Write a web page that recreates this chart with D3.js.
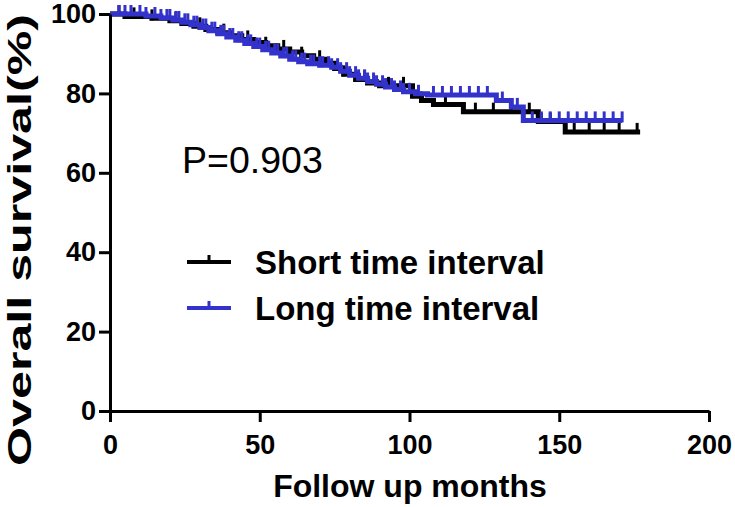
<!DOCTYPE html>
<html><head><meta charset="utf-8">
<script src="https://cdn.jsdelivr.net/npm/d3@7"></script>
<style>html,body{margin:0;padding:0;background:#fff;}svg{display:block;}</style>
</head><body>
<svg id="c" width="735" height="507"></svg>
<script>
// ---- data ----
const xTicks = [0, 50, 100, 150, 200];
const yTicks = [0, 20, 40, 60, 80, 100];
const seriesNames = ["Short time interval", "Long time interval"];
const seriesColors = ["#000000", "#3333cc"];

// Kaplan-Meier steps [month, survival%]
const shortSteps = [[0,100],[5,99.4],[14,98.9],[20,98.3],[24,97.6],[28,96.9],[32,96.1],[36,95.3],[40,94.5],[44,93.6],[48,92.8],[52,92.0],[56,91.2],[60,90.4],[64,89.5],[68,88.6],[72,87.6],[75,86.3],[78,84.8],[82,83.5],[86,82.6],[90,81.9],[101,79.3],[104,78.2],[108,77.2],[118,75.4],[143,72.9],[152,70.3],[177,70.3]];
const longSteps = [[0,100],[12,99.5],[17,99.0],[21,98.5],[24,97.9],[27,97.3],[30,96.6],[33,95.8],[36,95.0],[39,94.2],[42,93.4],[45,92.6],[48,91.8],[51,91.0],[54,90.2],[57,89.4],[60,88.6],[63,88.0],[66,87.5],[70,87.1],[74,86.6],[77,85.6],[80,84.6],[83,83.8],[86,83.0],[89,82.3],[92,81.6],[95,81.0],[98,80.4],[102,79.9],[106,79.6],[129,78.2],[134,76.6],[138,73.2],[171,73.2]];

// censored observations (months)
const shortCensor = [3,8,14,22,30,38,46,52,58,64,70,78,85,93,98,104,112,122,128,134,140,144,147,155,160,165,170,176];
const longCensor = [3,5,7,10,12,15,17,19,20,22,23,25,26,28,29,31,32,34,35,37,38,40,41,43,44,46,47,49,50,52,53,55,56,58,59,61,62,64,65,67,68,70,71,73,74,76,77,79,80,82,83,85,86,88,89,91,92,94,95,97,98,100,103,108,111,114,117,120,123,126,131,136,141,144,147,150,153,156,159,162,165,168,171];

const pLabel = "P=0.903";
const xTitle = "Follow up months";
const yTitle = "Overall survival(%)";

// ---- drawing ----
const svg = d3.select("#c");
const x = d3.scaleLinear().domain([0, 200]).range([110, 709]);
const y = d3.scaleLinear().domain([0, 100]).range([411, 14]);
const FONT = "'Liberation Sans', Arial, Helvetica, sans-serif";

function survAt(steps, t) {
  let s = steps[0][1];
  for (const d of steps) { if (d[0] <= t) s = d[1]; else break; }
  return s;
}

const line = d3.line().x(d => x(d[0])).y(d => y(d[1])).curve(d3.curveStepAfter);

const series = [
  {steps: shortSteps, censor: shortCensor, color: seriesColors[0]},
  {steps: longSteps, censor: longCensor, color: seriesColors[1]}
];

series.forEach(s => {
  const g = svg.append("g");
  g.append("path").datum(s.steps).attr("d", line)
    .attr("fill", "none").attr("stroke", s.color).attr("stroke-width", 5);
  g.selectAll("line.c").data(s.censor).enter().append("line")
    .attr("x1", d => x(d)).attr("x2", d => x(d))
    .attr("y1", d => y(survAt(s.steps, d)) + 2)
    .attr("y2", d => y(survAt(s.steps, d)) - 9)
    .attr("stroke", s.color).attr("stroke-width", 3);
});

// axes
const xAxis = d3.axisBottom(x).tickValues(xTicks).tickSize(11).tickSizeOuter(0).tickPadding(13);
const yAxis = d3.axisLeft(y).tickValues(yTicks).tickSize(11).tickSizeOuter(0).tickPadding(3);

const gx = svg.append("g").attr("transform", "translate(0,411)").call(xAxis);
const gy = svg.append("g").attr("transform", "translate(110,0)").call(yAxis);
[gx, gy].forEach(g => {
  g.select(".domain").attr("stroke", "#000").attr("stroke-width", 3);
  g.selectAll(".tick line").attr("stroke", "#000").attr("stroke-width", 3);
  g.selectAll(".tick text").attr("fill", "#000")
    .style("font-family", FONT).style("font-weight", "bold").style("font-size", "27px");
});

// titles
svg.append("text").attr("x", 410).attr("y", 497).attr("text-anchor", "middle")
  .style("font-family", FONT).style("font-weight", "bold").style("font-size", "32px")
  .text(xTitle);
svg.append("text").attr("transform", "translate(31,240) rotate(-90)").attr("text-anchor", "middle")
  .attr("textLength", 452).attr("lengthAdjust", "spacingAndGlyphs")
  .style("font-family", FONT).style("font-weight", "bold").style("font-size", "34px")
  .text(yTitle);

// p value
svg.append("text").attr("x", 182).attr("y", 173)
  .style("font-family", FONT).style("font-size", "37.5px").text(pLabel);

// legend
const legY = [262, 308];
seriesNames.forEach((n, i) => {
  const g = svg.append("g");
  g.append("line").attr("x1", 187).attr("x2", 231).attr("y1", legY[i]).attr("y2", legY[i])
    .attr("stroke", seriesColors[i]).attr("stroke-width", 4);
  g.append("line").attr("x1", 209).attr("x2", 209).attr("y1", legY[i] + 1).attr("y2", legY[i] - 7)
    .attr("stroke", seriesColors[i]).attr("stroke-width", 3);
  g.append("text").attr("x", 255).attr("y", legY[i] + 12)
    .style("font-family", FONT).style("font-weight", "bold").style("font-size", "33px").text(n);
});
</script>
</body></html>
